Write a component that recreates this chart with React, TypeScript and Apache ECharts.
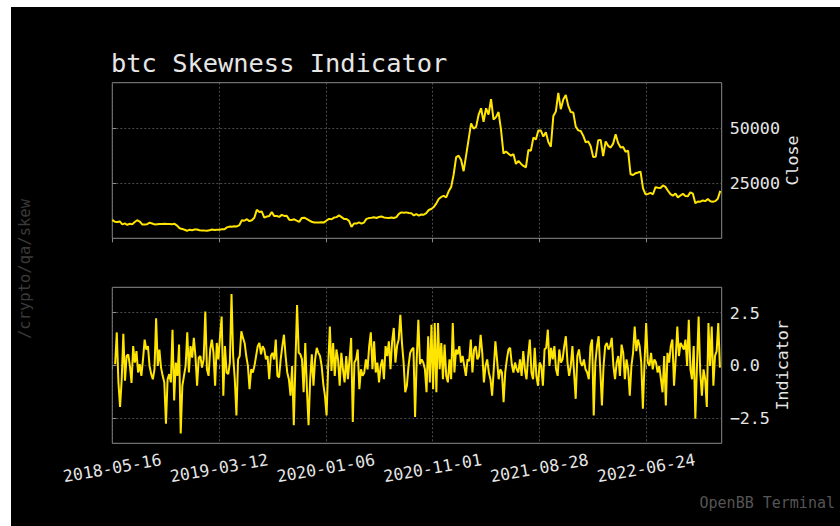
import React, { useEffect, useRef } from "react";
import * as echarts from "echarts";

// ---------- data ----------
const baseDate = "2018-05-16"; // day 0 of the x axis
const axisEndDay = 1712; // 2023-01-22
const xTickDays = [0, 300, 600, 900, 1200, 1500];

// weekly BTC close, one value every 7 days starting at baseDate
const closeStepDays = 7;
const closeValues = [
  // 2018
  8350, 7500, 7400, 7650, 6300, 6750, 6100, 6600, 6300, 7400, 8200, 7600, 6300, 6300, 6400, 7050, 6700,
  6300, 6400, 6500, 6500, 6600, 6500, 6450, 6350, 6550, 5750, 4550, 4250, 3850, 3400, 3900, 3650,
  // 2019
  3950, 4000, 3650, 3570, 3480, 3400, 3600, 3980, 3800, 3870, 3880, 4050, 4100, 4950, 5300, 5250, 5450,
  5400, 5950, 8200, 7950, 8650, 7800, 8200, 9300, 12900, 11900, 12100, 9400, 9850, 10100, 11950, 10050,
  10100, 9700, 10600, 10150, 10200, 8450, 8300, 8600, 8000, 7450, 9150, 9350, 8750, 8100, 7500, 7200,
  7200, 7150, 7250,
  // 2020
  7200, 8050, 8800, 8650, 9400, 9600, 10350, 9600, 8800, 8750, 7900, 5200, 6700, 6650, 7200, 6650, 7130,
  8800, 9150, 9300, 9500, 9200, 9650, 9890, 9450, 9300, 9230, 9430, 9200, 9600, 11100, 11750, 11580,
  11750, 11470, 11400, 10340, 11000, 10240, 10780, 10670, 11430, 12820, 13270, 14150, 15700, 17800,
  18750, 19200, 18550, 21300, 23250, 28900,
  // 2021
  36800, 37400, 35500, 30400, 37600, 44800, 52100, 49700, 50500, 55900, 58900, 52800, 58900, 56000,
  63100, 53800, 54900, 57200, 49200, 38400, 39300, 38350, 37400, 38100, 33700, 35050, 33800, 32800,
  32100, 40000, 39700, 45600, 44800, 48900, 48800, 46100, 48100, 43600, 41500, 55400, 57400, 65900,
  58500, 62900, 64900, 60000, 57200, 57000, 50600, 48900, 48600, 46500,
  // 2022
  43500, 43900, 41700, 36800, 36900, 44400, 44600, 37300, 43900, 41900, 41100, 42900, 47100, 43200,
  41100, 41400, 39200, 39700, 29000, 28700, 29500, 29800, 30200, 22600, 19950, 20100, 20550, 19950,
  23200, 22900, 22800, 23950, 23300, 21550, 20050, 19300, 20250, 18550, 19400, 20150, 19150, 19100,
  20800, 20200, 15900, 16700, 16600, 17150, 16850, 17800, 16800, 16550,
  // 2023
  16850, 17950, 21500,
];

// skewness indicator, evenly spaced between these two days
const indicatorStartDay = 8;
const indicatorEndDay = 1707;
const indicatorValues = [
  0.05, 1.56, -0.81, -1.98, -0.66, 1.5, -0.73, 0.44, 0.52, -0.03,
  -0.84, 0.91, 0.13, 0.67, -0.34, 0.05, -0.5, 0.28, 1.22, 0.75,
  0.91, -0.03, -0.42, -0.66, -0.19, 2.23, -0.03, 0.75, -0.11, -0.5,
  -0.81, -2.77, -0.66, -0.42, -0.81, 1.69, -1.67, 0.13, -0.5, 0.98,
  -3.23, -0.97, -0.5, -0.03, 1.56, -0.34, 0.91, 0.36, 1.3, 0.44,
  -0.97, 0.36, 0.44, -0.11, 0.28, 2.55, -0.19, -0.5, 0.75, 1.22,
  0.59, -0.97, 1.06, 0.28, 1.38, 2.31, -1.44, 0.91, -0.34, -0.42,
  0.13, 3.38, 0.44, -0.66, -2.38, 0.28, 0.44, 1.61, 1.3, 1.06,
  0.44, -0.03, -1.13, -0.19, -0.34, -0.03, 0.44, 0.91, 1.06, 0.52,
  0.91, 0.75, 0.28, 0.44, -0.66, 0.44, 0.59, 0.28, 1.22, -0.5,
  -0.58, 0.28, 0.91, 1.45, 0.44, -0.34, -0.66, -1.44, -0.03, -2.84,
  0.13, 2.86, 0.59, 0.52, 0.28, -1.28, 1.06, -1.13, -2.84, -0.66,
  0.52, -0.97, 0.28, 0.83, 0.59, 0.44, -0.03, -0.89, -1.44, -2.38,
  -0.03, 1.84, -0.27, 1.06, -0.5, 0.75, 0.28, -0.97, 0.59, -0.19,
  -0.81, 0.44, -0.66, 0.28, 1.3, -2.69, 0.13, 0.28, 0.75, -1.13,
  -0.19, -0.5, -0.34, 0.28, -0.19, 0.91, 1.56, -0.19, 1.14, -0.34,
  0.13, -0.81, -0.03, 0.28, -0.66, 0.91, 0.44, 1.14, -0.19, 1.14,
  1.77, 0.13, 0.91, 1.22, 2.39, 1.06, 0.13, -1.28, -0.97, -0.03,
  0.59, 0.75, 0.83, -2.45, 0.28, 2.16, 0.05, 0.28, 0.13,
  -0.19, -1.28, 1.38, -0.81, 1.92, -1.13, 2.0, -1.28, 2.0, -0.19,
  1.06, -0.66, 0.98, -0.5, -0.81, 0.28, -0.66, 2.0, -0.34, 0.75,
  0.52, 0.91, 0.13, 0.44, -0.03, -0.5, 0.28, 0.2, 1.22, -0.34,
  0.75, 0.91, 0.28, 0.44, 1.45, 0.59, -0.81, -0.03, 0.28, -0.34,
  -0.66, -1.44, -0.19, 1.14, 0.28, -0.66, -0.19, -0.34, -1.75, -0.34,
  0.28, 0.75, 0.83, 0.05, -0.34, 0.13, -0.19, -0.34, 0.28, -0.5,
  0.67, -0.19, -0.66, 0.44, 1.22, -0.34, -0.66, 0.83, -0.5, -0.97,
  0.13, -0.03, -0.97, 0.75, 0.83, 1.69, -0.03, 0.83, 0.28, 0.91,
  -0.19, -0.5, 0.75, 0.13, 0.28, 0.91, 1.38, 0.13, -0.5, -0.03,
  0.91, -0.34, -1.59, 0.44, 0.75, 0.13, -0.03, 0.28, -0.19, -0.34,
  -0.66, 0.91, 1.22, -2.38, 0.13, 0.91, 1.38, -0.19, -1.91, -0.03,
  0.91, 1.06, 0.75, 0.91, 1.3, -0.03, -0.66, 0.13, 0.44, -0.5,
  0.98, 0.59, -0.66, 0.28, -0.19, -1.44, -0.03, 0.59, 1.84, 0.67,
  1.22, 0.91, 0.13, -2.06, 0.13, 2.0, 0.13, -0.03, 0.59, -0.19,
  0.28, 0.13, -0.34, -0.03, -0.66, -1.28, 0.44, -1.91, 0.59, 0.13,
  0.91, 1.22, -0.97, 0.28, 1.84, 0.44, 1.06, 0.91, 0.75, 1.22,
  -0.03, 2.16, -0.19, -0.66, 0.91, -2.53, -0.03, 2.31, -0.34, -1.44,
  -0.19, -0.66, -1.98, 2.0, -0.03, 1.84, -0.97, 0.44, 0.67, 2.0, -0.11,
];

const closeTickLabels = [25000, 50000];
const indicatorTickLabels = [-2.5, 0, 2.5];

// ---------- styles ----------
const MONO = "'DejaVu Sans Mono', monospace";
const TEXT = "#e6e6e6";
const BORDER = "#8c8c8c";
const GRIDLINE = "#5e5e5e";
const LINE = "#ffe500";

const baseMs = Date.parse(baseDate + "T00:00:00Z");
const fmtDay = (d: number) => new Date(baseMs + Math.round(d) * 86400000).toISOString().slice(0, 10);

export default function App() {
  const ref = useRef<HTMLDivElement>(null);
  useEffect(() => {
    if (!ref.current) return;
    const chart = echarts.init(ref.current, null, { renderer: "svg" });

    const closeData = closeValues.map((v, i) => [i * closeStepDays, v]);
    const n = indicatorValues.length;
    const step = (indicatorEndDay - indicatorStartDay) / (n - 1);
    const indData = indicatorValues.map((v, i) => [indicatorStartDay + i * step, v]);

    const splitLine = { show: true, lineStyle: { color: GRIDLINE, type: [2, 2], width: 0.8 } };
    const xCommon = {
      type: "value",
      min: 0,
      max: axisEndDay,
      axisLine: { show: false },
      axisTick: { show: true, customValues: xTickDays, length: 4, lineStyle: { color: BORDER } },
      splitLine,
    };

    chart.setOption({
      animation: false,
      backgroundColor: "#000",
      textStyle: { fontFamily: MONO },
      title: {
        text: "btc Skewness Indicator",
        left: 100,
        top: 43,
        padding: 0,
        textStyle: { fontFamily: MONO, fontSize: 25.4, fontWeight: "normal", color: TEXT },
      },
      grid: [
        { left: 101.3, top: 75.7, width: 609.4, height: 155.6, show: true, borderColor: BORDER, borderWidth: 1, backgroundColor: "transparent" },
        { left: 101.3, top: 280.3, width: 609.4, height: 156, show: true, borderColor: BORDER, borderWidth: 1, backgroundColor: "transparent" },
      ],
      xAxis: [
        { ...xCommon, gridIndex: 0, axisLabel: { show: false, customValues: xTickDays } },
        {
          ...xCommon,
          gridIndex: 1,
          axisLabel: {
            customValues: xTickDays,
            formatter: (v: number) => fmtDay(v),
            rotate: 10,
            align: "center",
            verticalAlign: "middle",
            margin: 25,
            fontSize: 16.5,
            color: TEXT,
            fontFamily: MONO,
          },
        },
      ],
      yAxis: [
        {
          type: "value",
          gridIndex: 0,
          position: "right",
          min: 0,
          max: 70500,
          axisLine: { show: false },
          axisTick: { show: true, customValues: closeTickLabels, length: 4, lineStyle: { color: BORDER } },
          axisLabel: {
            customValues: closeTickLabels,
            formatter: (v: number) => String(v),
            fontSize: 16.7,
            color: TEXT,
            fontFamily: MONO,
            margin: 8,
          },
          splitLine,
          name: "Close",
          nameLocation: "middle",
          nameRotate: 90,
          nameGap: 62,
          nameMoveOverlap: false,
          nameTextStyle: { fontSize: 16.7, color: TEXT, fontFamily: MONO },
        },
        {
          type: "value",
          gridIndex: 1,
          position: "right",
          min: -3.7,
          max: 3.7,
          axisLine: { show: false },
          axisTick: { show: true, customValues: indicatorTickLabels, length: 4, lineStyle: { color: BORDER } },
          axisLabel: {
            customValues: indicatorTickLabels,
            formatter: (v: number) => v.toFixed(1).replace("-", "\u2212"),
            fontSize: 16.7,
            color: TEXT,
            fontFamily: MONO,
            margin: 8,
          },
          splitLine,
          name: "Indicator",
          nameLocation: "middle",
          nameRotate: 90,
          nameGap: 52,
          nameMoveOverlap: false,
          nameTextStyle: { fontSize: 16.7, color: TEXT, fontFamily: MONO },
        },
      ],
      series: [
        {
          type: "line",
          xAxisIndex: 0,
          yAxisIndex: 0,
          data: closeData,
          showSymbol: false,
          lineStyle: { color: LINE, width: 2 },
        },
        {
          type: "line",
          xAxisIndex: 1,
          yAxisIndex: 1,
          data: indData,
          showSymbol: false,
          lineStyle: { color: LINE, width: 2 },
        },
      ],
      graphic: [
        {
          type: "text",
          x: 14,
          y: 262,
          rotation: Math.PI / 2,
          style: {
            text: "/crypto/qa/skew",
            fill: "#3a3a3a",
            fontSize: 15.5,
            fontFamily: MONO,
            align: "center",
            verticalAlign: "middle",
          },
        },
        {
          type: "text",
          x: 824,
          y: 496,
          style: {
            text: "OpenBB Terminal",
            fill: "#555555",
            fontSize: 15,
            fontFamily: MONO,
            align: "right",
            verticalAlign: "middle",
          },
        },
      ],
    });
    return () => chart.dispose();
  }, []);

  return (
    <div style={{ position: "absolute", left: 0, top: 0, width: 840, height: 526, background: "#fff" }}>
      <div
        ref={ref}
        style={{ position: "absolute", left: 11, top: 7, width: 829, height: 519, background: "#000" }}
      />
    </div>
  );
}
